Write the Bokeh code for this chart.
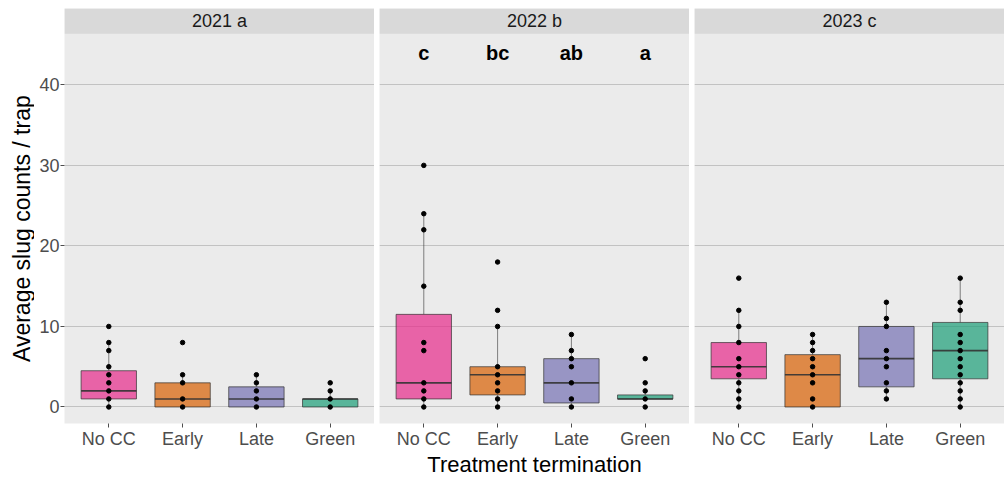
import math
from bokeh.plotting import figure
from bokeh.models import Range1d, FixedTicker, BoxAnnotation, Label, ColumnDataSource
from bokeh.layouts import row, column
from bokeh.core.properties import value
from bokeh.embed import file_html
from bokeh.resources import INLINE

# ---------------- data ----------------
years = ["2021 a", "2022 b", "2023 c"]
treatments = ["No CC", "Early", "Late", "Green"]
colors = ["#E7298A", "#D95F02", "#7570B3", "#1B9E77"]

# observed points (per treatment) for each year
pts_2021 = [[0, 1, 2, 3, 4, 5, 7, 8, 10], [0, 1, 3, 4, 8], [0, 1, 2, 3, 4], [0, 1, 2, 3]]
pts_2022 = [[0, 1, 2, 3, 7, 8, 15, 22, 24, 30], [0, 1, 2, 3, 4, 5, 10, 12, 18],
            [0, 1, 3, 5, 6, 7, 9], [0, 1, 2, 3, 6]]
pts_2023 = [[0, 1, 2, 3, 4, 5, 6, 8, 10, 12, 16], [0, 1, 3, 4, 5, 6, 7, 8, 9],
            [1, 2, 3, 5, 6, 7, 10, 11, 13], [0, 1, 2, 3, 4, 5, 6, 7, 8, 9, 12, 13, 16]]

# box statistics per year (No CC, Early, Late, Green)
q1_2021 = [1, 0, 0, 0]
med_2021 = [2, 1, 1, 1]
q3_2021 = [4.5, 3, 2.5, 1]
lo_2021 = [0, 0, 0, 0]
hi_2021 = [8, 4, 4, 2]

q1_2022 = [1, 1.5, 0.5, 1]
med_2022 = [3, 4, 3, 1]
q3_2022 = [11.5, 5, 6, 1.5]
lo_2022 = [0, 0, 0, 1]
hi_2022 = [24, 10, 9, 2]

q1_2023 = [3.5, 0, 2.5, 3.5]
med_2023 = [5, 4, 6, 7]
q3_2023 = [8, 6.5, 10, 10.5]
lo_2023 = [0, 0, 1, 0]
hi_2023 = [12, 9, 13, 16]

letters_2022 = ["c", "bc", "ab", "a"]
letters_y = 44

y_title = "Average slug counts / trap"
x_title = "Treatment termination"

panels = [
    (pts_2021, q1_2021, med_2021, q3_2021, lo_2021, hi_2021, None),
    (pts_2022, q1_2022, med_2022, q3_2022, lo_2022, hi_2022, letters_2022),
    (pts_2023, q1_2023, med_2023, q3_2023, lo_2023, hi_2023, None),
]

# ---------------- layout ----------------
FW = 310
FH = 415
YLAB_W = 34
AXIS_W = 30          # y tick labels + ticks
GAP = 5
TOP = 8
BOTTOM = 20
XLAB_H = 26
XMIN, XMAX = 0.4, 4.6
YMIN, YMAX = -2.05, 49.48
STRIP_BOTTOM = 46.34
STRIP_MID = 47.9
BOX_W = 0.75
FONT = "Liberation Sans"

# y title column
ylab = figure(frame_width=YLAB_W, frame_height=FH, x_range=Range1d(0, YLAB_W),
              y_range=Range1d(YMIN, YMAX), output_backend="svg", toolbar_location=None,
              x_axis_location=None, y_axis_location=None, min_border_left=0,
              min_border_right=0, min_border_top=TOP, min_border_bottom=BOTTOM,
              outline_line_color=None, background_fill_color="white")
ylab.grid.visible = False
ylab.text(x=[21], y=[(YMIN + STRIP_BOTTOM) / 2], text=[y_title], angle=math.pi / 2,
          text_align="center", text_baseline="middle", text_font=value(FONT),
          text_font_size="23px", text_color="black")

figs = [ylab]
xs = [1, 2, 3, 4]
for i, (pts, q1, med, q3, lo, hi, letters) in enumerate(panels):
    p = figure(frame_width=FW, frame_height=FH,
               x_range=Range1d(XMIN, XMAX), y_range=Range1d(YMIN, YMAX),
               output_backend="svg", toolbar_location=None,
               y_axis_location="left" if i == 0 else None,
               min_border_left=AXIS_W if i == 0 else GAP, min_border_right=0,
               min_border_top=TOP, min_border_bottom=BOTTOM,
               background_fill_color="#EBEBEB", border_fill_color="white",
               outline_line_color=None)

    # strip
    p.add_layout(BoxAnnotation(bottom=STRIP_BOTTOM, fill_color="#D9D9D9", fill_alpha=1,
                               line_color=None))
    p.add_layout(Label(x=(XMIN + XMAX) / 2, y=STRIP_MID, text=years[i], text_align="center",
                       text_baseline="middle", text_font_size="18px",
                       text_color="#1A1A1A", text_font=FONT))

    src = ColumnDataSource(dict(x=xs, q1=q1, med=med, q3=q3, lo=lo, hi=hi, color=colors,
                                x0=[x - BOX_W / 2 for x in xs], x1=[x + BOX_W / 2 for x in xs]))
    # whiskers
    p.segment(x0="x", x1="x", y0="q3", y1="hi", source=src, line_color="#333333",
              line_alpha=0.6, line_width=1)
    p.segment(x0="x", x1="x", y0="lo", y1="q1", source=src, line_color="#333333",
              line_alpha=0.6, line_width=1)
    # boxes
    p.vbar(x="x", width=BOX_W, top="q3", bottom="q1", source=src, fill_color="color",
           fill_alpha=0.7, line_color="#333333", line_alpha=0.7, line_width=1)
    # medians
    p.segment(x0="x0", x1="x1", y0="med", y1="med", source=src, line_color="#333333",
              line_alpha=0.9, line_width=1.6)

    # points
    px, py = [], []
    for k, vals in enumerate(pts):
        px += [xs[k]] * len(vals)
        py += vals
    p.scatter(px, py, size=4.5, color="black")

    if letters is not None:
        p.text(x=xs, y=[letters_y] * 4, text=letters, text_font=value(FONT),
               text_font_style="bold", text_font_size="20px", text_align="center",
               text_baseline="middle", text_color="black")

    # axes
    p.xaxis.ticker = FixedTicker(ticks=xs)
    p.xaxis.major_label_overrides = {x: t for x, t in zip(xs, treatments)}
    p.xaxis.axis_line_color = None
    p.xaxis.minor_tick_line_color = None
    p.xaxis.major_tick_in = 0
    p.xaxis.major_tick_out = 4
    p.xaxis.major_tick_line_color = "#4D4D4D"
    p.xaxis.major_label_text_font_size = "18px"
    p.xaxis.major_label_text_color = "#4D4D4D"
    p.xaxis.major_label_text_font = FONT
    p.xaxis.major_label_standoff = 1
    p.xgrid.visible = False
    p.ygrid.ticker = FixedTicker(ticks=[0, 10, 20, 30, 40])
    p.ygrid.grid_line_color = "#C2C2C2"
    p.ygrid.grid_line_width = 1

    if i == 0:
        p.yaxis.ticker = FixedTicker(ticks=[0, 10, 20, 30, 40])
        p.yaxis.axis_line_color = None
        p.yaxis.minor_tick_line_color = None
        p.yaxis.major_tick_in = 0
        p.yaxis.major_tick_out = 4
        p.yaxis.major_tick_line_color = "#4D4D4D"
        p.yaxis.major_label_text_font_size = "18px"
        p.yaxis.major_label_text_color = "#4D4D4D"
        p.yaxis.major_label_text_font = FONT
        p.yaxis.major_label_standoff = 1
    figs.append(p)

# x title row
TOTAL_W = YLAB_W + AXIS_W + 3 * FW + 2 * GAP
mid_centre = YLAB_W + AXIS_W + FW + GAP + FW / 2
xlab = figure(frame_width=TOTAL_W, frame_height=XLAB_H, x_range=Range1d(0, TOTAL_W),
              y_range=Range1d(0, XLAB_H), output_backend="svg", toolbar_location=None,
              x_axis_location=None, y_axis_location=None, min_border=0,
              outline_line_color=None, background_fill_color="white")
xlab.grid.visible = False
xlab.text(x=[mid_centre], y=[XLAB_H / 2], text=[x_title], text_align="center",
          text_baseline="middle", text_font=value(FONT), text_font_size="22px",
          text_color="black")

layout = column(row(*figs), xlab)
open("out.html", "w").write(file_html(layout, INLINE))
